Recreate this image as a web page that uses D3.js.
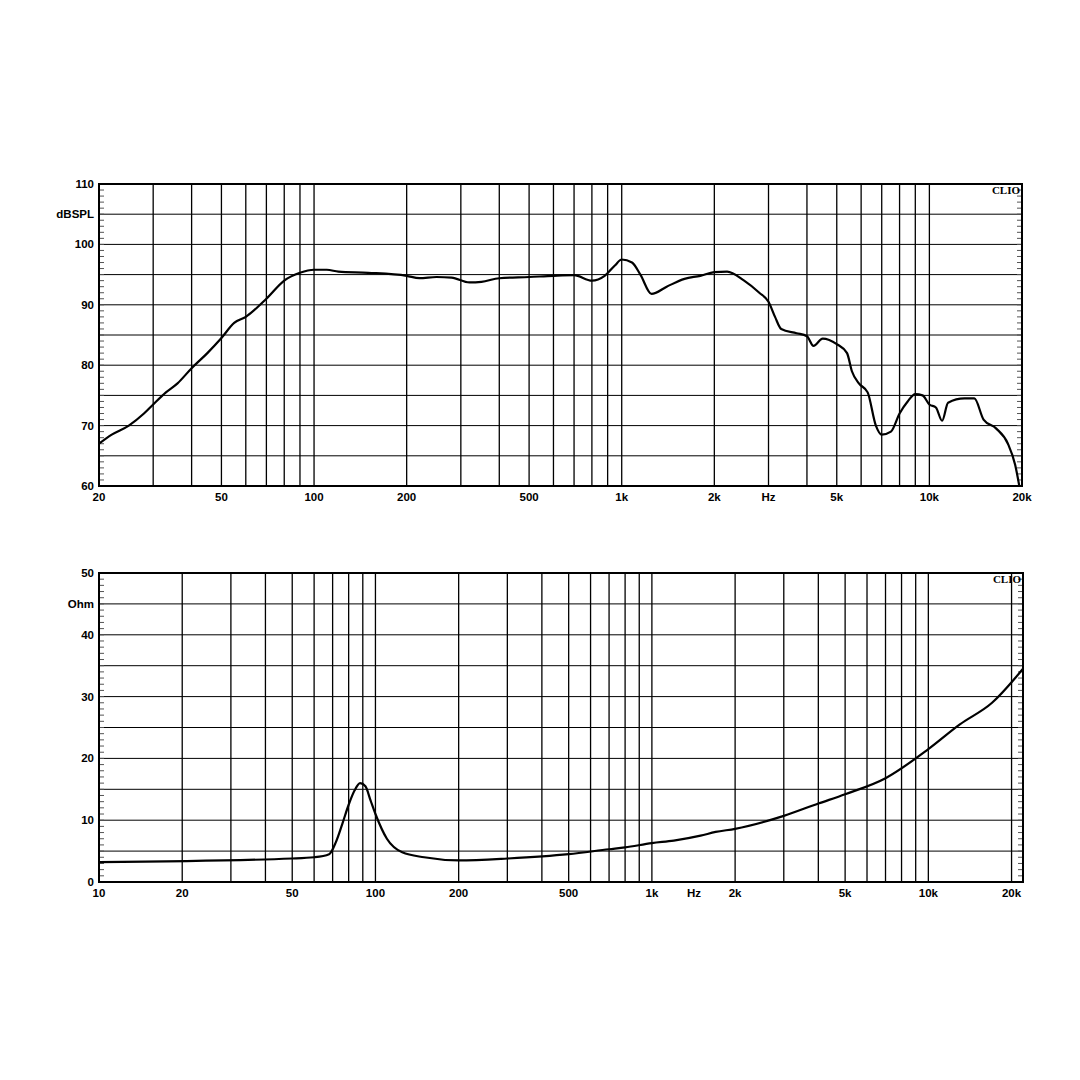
<!DOCTYPE html><html><head><meta charset="utf-8"><script src="https://cdn.jsdelivr.net/npm/d3@7"></script>
<style>body{margin:0;background:#fff}text{font-family:"Liberation Sans",Arial,sans-serif;font-weight:bold;font-size:11.5px;fill:#000}</style></head><body>
<svg id="c" width="1080" height="1080"></svg>
<script>
const splFreq=[20,22,25,28,30,33,36,40,45,50,55,60,70,80,90,100,110,120,150,200,220,250,280,320,350,400,500,600,700,800,880,950,1000,1080,1150,1250,1400,1600,1800,2000,2200,2500,2800,3000,3150,3300,3700,4000,4200,4500,5000,5400,5600,5900,6300,6700,7000,7500,8000,8500,9000,9500,10000,10500,11000,11500,13000,14000,15000,16500,18000,19000,19600];
const splDb=[67,68.5,70,72,73.5,75.5,77,79.5,82,84.5,87,88,91,94,95.3,95.8,95.8,95.5,95.3,94.8,94.4,94.6,94.5,93.7,93.8,94.4,94.6,94.8,94.9,94.0,94.8,96.5,97.5,97,95,91.8,93,94.3,94.8,95.4,95.5,94,92,90.5,88,86,85.3,84.8,83.2,84.4,83.5,82,79,77,75.5,70,68.5,69,72,74,75.2,75,73.5,73,70.8,73.8,74.5,74.5,71,69.5,67,63.5,60];
const impFreq=[10,50,60,68,72,76,80,84,88,92,96,100,110,125,150,200,300,500,700,800,1000,1200,1500,1700,2000,3000,4000,5000,7000,10000,13000,17000,22000];
const impOhm=[3.2,3.8,4.0,4.5,6.5,9.5,12.5,14.8,16,15.5,13.2,11,7,4.8,4.0,3.5,3.8,4.5,5.3,5.6,6.3,6.7,7.5,8.1,8.6,10.7,12.7,14.2,16.8,21.5,25.5,29,34.5];
const splTicks=[[20,"20"],[50,"50"],[100,"100"],[200,"200"],[500,"500"],[1000,"1k"],[2000,"2k"],[3000,"Hz"],[5000,"5k"],[10000,"10k"],[20000,"20k"]];
const impTicks=[[10,"10"],[20,"20"],[50,"50"],[100,"100"],[200,"200"],[500,"500"],[1000,"1k"],[1420,"Hz"],[2000,"2k"],[5000,"5k"],[10000,"10k"],[20000,"20k"]];
const svg=d3.select("#c");
function grid(fmin,fmax,step){const g=[];for(let d=Math.pow(10,Math.floor(Math.log10(fmin)));d<fmax;d*=10)for(let k=1;k<10;k++){const f=k*d;if(f>fmin*1.001&&f<fmax*0.999)g.push(f);}return g;}
function panel(o){
 const x=d3.scaleLog().domain(o.xd).range([o.x0,o.x1]);
 const y=d3.scaleLinear().domain(o.yd).range([o.y1,o.y0]);
 const g=svg.append("g");
 g.selectAll(".v").data(grid(o.xd[0],o.xd[1])).join("line").attr("x1",d=>x(d)).attr("x2",d=>x(d)).attr("y1",o.y0).attr("y2",o.y1).attr("stroke","#000").attr("stroke-width",1.3);
 g.selectAll(".h").data(d3.range(o.yd[0]+5,o.yd[1],5)).join("line").attr("x1",o.x0).attr("x2",o.x1).attr("y1",d=>y(d)).attr("y2",d=>y(d)).attr("stroke","#000").attr("stroke-width",1);
 const mins=d3.range(o.yd[0]+1,o.yd[1],1);
 g.selectAll(".ml").data(mins).join("line").attr("x1",o.x0).attr("x2",o.x0+5).attr("y1",d=>y(d)).attr("y2",d=>y(d)).attr("stroke","#555");
 g.selectAll(".mr").data(mins).join("line").attr("x1",o.x1-5).attr("x2",o.x1).attr("y1",d=>y(d)).attr("y2",d=>y(d)).attr("stroke","#555");
 g.append("rect").attr("x",o.x0).attr("y",o.y0).attr("width",o.x1-o.x0).attr("height",o.y1-o.y0).attr("fill","none").attr("stroke","#000").attr("stroke-width",2);
 g.selectAll(".yl").data(d3.range(o.yd[0],o.yd[1]+1,10)).join("text").attr("x",o.x0-5).attr("y",d=>y(d)+4).attr("text-anchor","end").text(d=>d);
 g.append("text").attr("x",o.x0-5).attr("y",y(o.yd[1]-5)+4).attr("text-anchor","end").text(o.unit);
 g.selectAll(".xl").data(o.ticks).join("text").attr("x",d=>x(d[0])).attr("y",o.y1+15).attr("text-anchor","middle").text(d=>d[1]);
 g.append("text").attr("x",o.x1-2).attr("y",o.y0+10).attr("text-anchor","end").style("font-family","Liberation Serif,serif").style("font-size","11px").text("CLIO");
 const line=d3.line().x(d=>x(d[0])).y(d=>y(d[1])).curve(d3.curveMonotoneX);
 g.append("path").attr("d",line(o.fx.map((f,i)=>[f,o.vy[i]]))).attr("fill","none").attr("stroke","#000").attr("stroke-width",2.2);
}
panel({xd:[20,20000],yd:[60,110],x0:99,x1:1022,y0:184,y1:486,unit:"dBSPL",ticks:splTicks,fx:splFreq,vy:splDb});
panel({xd:[10,22000],yd:[0,50],x0:99,x1:1023,y0:573,y1:882,unit:"Ohm",ticks:impTicks,fx:impFreq,vy:impOhm});
</script></body></html>
